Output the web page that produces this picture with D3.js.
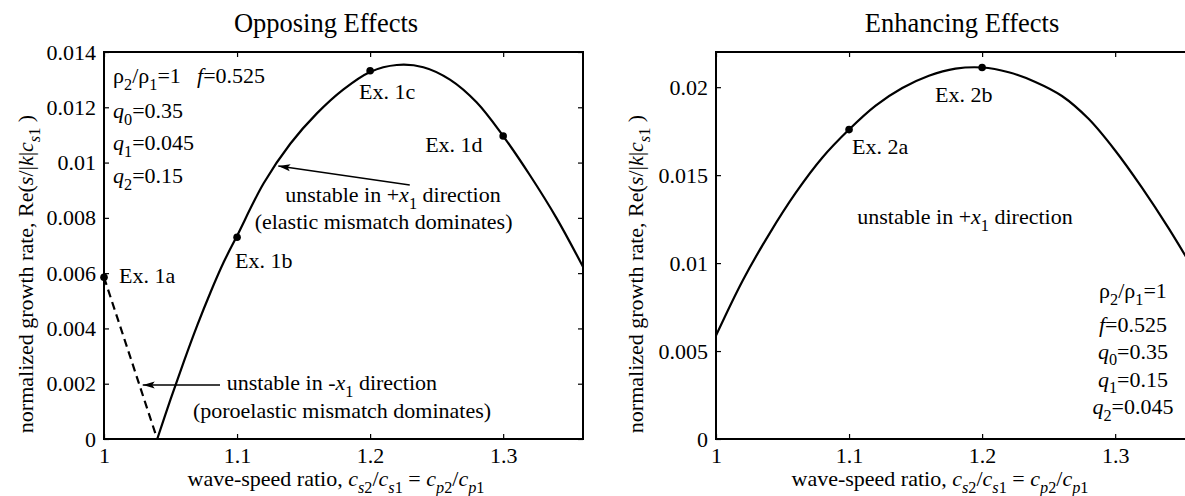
<!DOCTYPE html>
<html>
<head>
<meta charset="utf-8">
<script src="https://cdn.jsdelivr.net/npm/d3@7"></script>
<style>
  body { margin: 0; background: #fff; }
  svg { display: block; font-family: "Liberation Serif", "DejaVu Serif", serif; }
  text { fill: #000; }
</style>
</head>
<body>
<div id="chart"></div>
<script>
// growth-rate curves

// left panel: opposing effects
const leftX = [1.04, 1.05, 1.06, 1.07, 1.08, 1.09, 1.10, 1.12, 1.14, 1.16, 1.18, 1.20, 1.22, 1.24, 1.26, 1.28, 1.30, 1.32, 1.34, 1.36];
const leftRate = [0, 0.00143, 0.00280, 0.00410, 0.00530, 0.00640, 0.00735, 0.00925, 0.01068, 0.01178, 0.01265, 0.01328, 0.01353, 0.01345, 0.01300, 0.01218, 0.01096, 0.00955, 0.00800, 0.00623];
const dashX = [1.00, 1.01, 1.02, 1.03, 1.04];
const dashRate = [0.00585, 0.00439, 0.00293, 0.00146, 0];
const leftExamples = [
  { name: "Ex. 1a", x: 1.0, y: 0.00585 },
  { name: "Ex. 1b", x: 1.1, y: 0.0073 },
  { name: "Ex. 1c", x: 1.2, y: 0.01332 },
  { name: "Ex. 1d", x: 1.3, y: 0.01096 }
];

// right panel: enhancing effects
const rightX = [1.00, 1.02, 1.04, 1.06, 1.08, 1.10, 1.12, 1.14, 1.16, 1.18, 1.20, 1.22, 1.24, 1.26, 1.28, 1.30, 1.32, 1.34, 1.36];
const rightRate = [0.00588, 0.00900, 0.01165, 0.01400, 0.01600, 0.01759, 0.01895, 0.01995, 0.02065, 0.02105, 0.02112, 0.02085, 0.02030, 0.01950, 0.01820, 0.01640, 0.01430, 0.01200, 0.00950];
const rightExamples = [
  { name: "Ex. 2a", x: 1.1, y: 0.01759 },
  { name: "Ex. 2b", x: 1.2, y: 0.02112 }
];

const xTicks = [1, 1.1, 1.2, 1.3];
const xTickLabels = ["1", "1.1", "1.2", "1.3"];
const leftYTicks = [0, 0.002, 0.004, 0.006, 0.008, 0.01, 0.012, 0.014];
const leftYLabels = ["0", "0.002", "0.004", "0.006", "0.008", "0.01", "0.012", "0.014"];
const rightYTicks = [0, 0.005, 0.01, 0.015, 0.02];
const rightYLabels = ["0", "0.005", "0.01", "0.015", "0.02"];

// label offsets in px from their dot
const exOffset = {
  "Ex. 1a": [15, 6], "Ex. 1b": [-2, 31], "Ex. 1c": [-11, 28], "Ex. 1d": [-78, 16],
  "Ex. 2a": [3, 24], "Ex. 2b": [-47, 35]
};

const FS = 22;
const W = 1185, H = 496;
const svg = d3.select("#chart").append("svg").attr("width", W).attr("height", H);

const defs = svg.append("defs");
defs.append("marker")
  .attr("id", "arrow")
  .attr("viewBox", "0 0 12 8")
  .attr("refX", 12).attr("refY", 4)
  .attr("markerWidth", 12).attr("markerHeight", 8)
  .attr("markerUnits", "userSpaceOnUse")
  .attr("orient", "auto")
  .append("path")
  .attr("d", "M0,0.5 L12,4 L0,7.5 L2.5,4 Z")
  .attr("fill", "#000");

// writes a text with italic / subscript pieces
// parts: [text, flags] where flags may contain "i" (italic) and "s" (subscript)
function rich(g, x, y, parts, size = FS, anchor = "start") {
  const t = g.append("text")
    .attr("x", x).attr("y", y)
    .attr("font-size", size)
    .attr("text-anchor", anchor)
    .style("white-space", "pre");
  let down = false;
  const shift = size * 0.3;
  parts.forEach(([str, flags = ""]) => {
    const sp = t.append("tspan").text(str);
    const sub = flags.includes("s");
    if (flags.includes("i")) sp.attr("font-style", "italic");
    if (sub) sp.attr("font-size", size * 0.74);
    if (sub && !down) { sp.attr("dy", shift); down = true; }
    if (!sub && down) { sp.attr("dy", -shift); down = false; }
  });
  return t;
}

const xLabelParts = [["wave-speed ratio, "], ["c", "i"], ["s", "is"], ["2", "s"], ["/"], ["c", "i"], ["s", "is"], ["1", "s"],
  [" = "], ["c", "i"], ["p", "is"], ["2", "s"], ["/"], ["c", "i"], ["p", "is"], ["1", "s"]];
const yLabelParts = [["normalized growth rate, Re("], ["s", "i"], ["/|"], ["k", "i"], ["|"], ["c", "i"], ["s", "is"], ["1", "s"], [" )"]];
const plusDir = [["unstable in +"], ["x", "i"], ["1", "s"], [" direction"]];

function panel(cfg) {
  const x = d3.scaleLinear().domain([1, 1.36]).range([cfg.left, cfg.left + 479]);
  const y = d3.scaleLinear().domain([0, cfg.yMax]).range([439, 52]);
  const g = svg.append("g");

  const clipId = "clip-" + cfg.id;
  defs.append("clipPath").attr("id", clipId)
    .append("rect").attr("x", x.range()[0]).attr("y", 52)
    .attr("width", 479).attr("height", 387);

  // axes with inward ticks, mirrored on top and right
  const styleAxis = a => {
    a.attr("font-family", null).attr("font-size", FS);
    a.selectAll("line").attr("stroke-width", 1.2);
    a.select(".domain").remove();
  };
  g.append("g").attr("transform", `translate(0,439)`)
    .call(d3.axisBottom(x).tickValues(xTicks).tickFormat((d, i) => xTickLabels[i]).tickSize(-5).tickPadding(8))
    .call(styleAxis);
  g.append("g").attr("transform", `translate(0,52)`)
    .call(d3.axisTop(x).tickValues(xTicks).tickFormat("").tickSize(-5))
    .call(styleAxis);
  g.append("g").attr("transform", `translate(${x.range()[0]},0)`)
    .call(d3.axisLeft(y).tickValues(cfg.yTicks).tickFormat((d, i) => cfg.yLabels[i]).tickSize(-5).tickPadding(8))
    .call(styleAxis);
  g.append("g").attr("transform", `translate(${x.range()[1]},0)`)
    .call(d3.axisRight(y).tickValues(cfg.yTicks).tickFormat("").tickSize(-5))
    .call(styleAxis);

  g.append("rect")
    .attr("x", x.range()[0]).attr("y", 52)
    .attr("width", 479).attr("height", 387)
    .attr("fill", "none").attr("stroke", "#000").attr("stroke-width", 2);

  const line = d3.line().x(d => x(d[0])).y(d => y(d[1])).curve(d3.curveCatmullRom.alpha(0.5));
  const plot = g.append("g").attr("clip-path", `url(#${clipId})`);
  plot.append("path")
    .attr("d", line(d3.zip(cfg.xs, cfg.ys)))
    .attr("fill", "none").attr("stroke", "#000").attr("stroke-width", 2.2);
  if (cfg.dashX) {
    plot.append("path")
      .attr("d", d3.line().x(d => x(d[0])).y(d => y(d[1]))(d3.zip(cfg.dashX, cfg.dashY)))
      .attr("fill", "none").attr("stroke", "#000").attr("stroke-width", 2.2)
      .attr("stroke-dasharray", "8,5");
  }

  g.selectAll(".dot").data(cfg.examples).enter().append("circle")
    .attr("cx", d => x(d.x)).attr("cy", d => y(d.y)).attr("r", 3.8).attr("fill", "#000");
  g.selectAll(".exlabel").data(cfg.examples).enter().append("text")
    .attr("x", d => x(d.x) + exOffset[d.name][0])
    .attr("y", d => y(d.y) + exOffset[d.name][1])
    .attr("font-size", FS)
    .text(d => d.name);

  // titles and axis labels
  g.append("text").attr("x", cfg.titleX).attr("y", 32).attr("text-anchor", "middle")
    .attr("font-size", 26.5).text(cfg.title);
  rich(g, cfg.xLabelX, 486, xLabelParts, FS, "middle");
  const yl = g.append("g").attr("transform", `translate(${cfg.yLabelX},274) rotate(-90)`);
  rich(yl, 0, 0, yLabelParts, FS, "middle");

  cfg.notes(g, x, y);
}

panel({
  id: "left", left: 104, yMax: 0.014, title: "Opposing Effects",
  titleX: 326, xLabelX: 336, yLabelX: 33,
  yTicks: leftYTicks, yLabels: leftYLabels,
  xs: leftX, ys: leftRate, dashX: dashX, dashY: dashRate, examples: leftExamples,
  notes: (g, x, y) => {
    rich(g, x(1.0068), y(0.01288), [["ρ"], ["2", "s"], ["/ρ"], ["1", "s"], ["=1"]]);
    rich(g, x(1.0699), y(0.01288), [["f", "i"], ["=0.525"]]);
    rich(g, x(1.0068), y(0.01161), [["q", "i"], ["0", "s"], ["=0.35"]]);
    rich(g, x(1.0068), y(0.010455), [["q", "i"], ["1", "s"], ["=0.045"]]);
    rich(g, x(1.0068), y(0.00926), [["q", "i"], ["2", "s"], ["=0.15"]]);

    rich(g, x(1.2172), y(0.00857), plusDir, FS, "middle");
    g.append("text").attr("x", x(1.2101)).attr("y", y(0.00759)).attr("text-anchor", "middle")
      .attr("font-size", FS).text("(elastic mismatch dominates)");
    g.append("line")
      .attr("x1", x(1.2298)).attr("y1", y(0.009189)).attr("x2", x(1.131)).attr("y2", y(0.009876))
      .attr("stroke", "#000").attr("stroke-width", 1.3).attr("marker-end", "url(#arrow)");

    rich(g, x(1.1713), y(0.001773), [["unstable in -"], ["x", "i"], ["1", "s"], [" direction"]], FS, "middle");
    g.append("text").attr("x", x(1.1789)).attr("y", y(0.000749)).attr("text-anchor", "middle")
      .attr("font-size", FS).text("(poroelastic mismatch dominates)");
    g.append("line")
      .attr("x1", x(1.0872)).attr("y1", y(0.001953)).attr("x2", x(1.0291)).attr("y2", y(0.001953))
      .attr("stroke", "#000").attr("stroke-width", 1.3).attr("marker-end", "url(#arrow)");
  }
});

panel({
  id: "right", left: 716, yMax: 0.022, title: "Enhancing Effects",
  titleX: 962, xLabelX: 940, yLabelX: 643,
  yTicks: rightYTicks, yLabels: rightYLabels,
  xs: rightX, ys: rightRate, examples: rightExamples,
  notes: (g, x, y) => {
    rich(g, x(1.1871), y(0.012197), plusDir, FS, "middle");
    const px = x(1.3134);
    rich(g, px, y(0.00802), [["ρ"], ["2", "s"], ["/ρ"], ["1", "s"], ["=1"]], FS, "middle");
    rich(g, px, y(0.00606), [["f", "i"], ["=0.525"]], FS, "middle");
    rich(g, px, y(0.00456), [["q", "i"], ["0", "s"], ["=0.35"]], FS, "middle");
    rich(g, px, y(0.00298), [["q", "i"], ["1", "s"], ["=0.15"]], FS, "middle");
    rich(g, px, y(0.00141), [["q", "i"], ["2", "s"], ["=0.045"]], FS, "middle");
  }
});
</script>
</body>
</html>
